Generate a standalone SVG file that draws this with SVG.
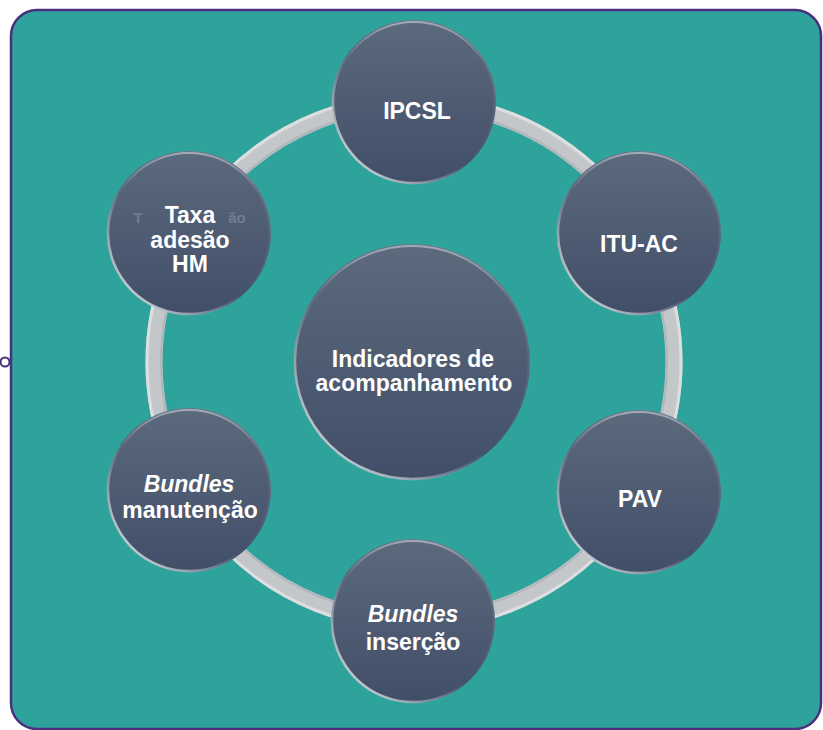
<svg xmlns="http://www.w3.org/2000/svg" width="823" height="730" viewBox="0 0 823 730">
  <style>
    .lbl { font-family: "Liberation Sans", Arial, sans-serif; font-weight: bold; fill: #ffffff; text-anchor: middle; }
    .it { font-style: italic; }
    .ghost { font-family: "Liberation Sans", Arial, sans-serif; font-weight: bold; fill: #ffffff; fill-opacity: 0.2; text-anchor: middle; }
    .rim { fill: none; stroke: url(#rim); stroke-width: 2.5; }
    .rimTop { fill: none; stroke: url(#rimTop); stroke-width: 2; }
  </style>
  <defs>
    <linearGradient id="nodeFill" x1="0" y1="0" x2="0" y2="1">
      <stop offset="0" stop-color="#5c6a7d"/>
      <stop offset="1" stop-color="#414e68"/>
    </linearGradient>
    <linearGradient id="rim" x1="0.85" y1="0.1" x2="0.1" y2="0.9">
      <stop offset="0" stop-color="#ffffff" stop-opacity="0.1"/>
      <stop offset="0.55" stop-color="#ffffff" stop-opacity="0"/>
      <stop offset="1" stop-color="#ffffff" stop-opacity="0.75"/>
    </linearGradient>
    <linearGradient id="rimTop" x1="0" y1="0" x2="0" y2="1">
      <stop offset="0" stop-color="#ffffff" stop-opacity="0.4"/>
      <stop offset="0.25" stop-color="#ffffff" stop-opacity="0"/>
      <stop offset="1" stop-color="#ffffff" stop-opacity="0"/>
    </linearGradient>
  </defs>

  <!-- frame -->
  <rect x="11" y="10" width="810" height="719" rx="26" ry="26" fill="#2ea39c" stroke="#4b2f7f" stroke-width="2.5"/>
  <circle cx="5" cy="362" r="4.5" fill="#ffffff" stroke="#4b2f7f" stroke-width="2"/>

  <!-- connectors: ring -->
  <g id="connectors">
    <circle cx="414" cy="362" r="260" fill="none" stroke="#c4c7ca" stroke-width="17"/>
    <circle cx="414" cy="362" r="267" fill="none" stroke="#dcdee0" stroke-width="3"/>
    <circle cx="414" cy="362" r="253" fill="none" stroke="#b2b6ba" stroke-width="2"/>
  </g>

  <g id="node-center">
    <circle cx="412" cy="362" r="118" fill="url(#nodeFill)"/>
    <circle cx="412" cy="362" r="117" class="rim"/>
    <circle cx="412" cy="362" r="116" class="rimTop"/>
    <text class="lbl" x="413" y="367" font-size="23">Indicadores de</text>
    <text class="lbl" x="414" y="391" font-size="23">acompanhamento</text>
  </g>

  <g id="node-ipcsl">
    <circle cx="414" cy="102" r="82" fill="url(#nodeFill)"/>
    <circle cx="414" cy="102" r="81" class="rim"/>
    <circle cx="414" cy="102" r="80" class="rimTop"/>
    <text class="lbl" x="417" y="119" font-size="23">IPCSL</text>
  </g>

  <g id="node-ituac">
    <circle cx="639" cy="233" r="82" fill="url(#nodeFill)"/>
    <circle cx="639" cy="233" r="81" class="rim"/>
    <circle cx="639" cy="233" r="80" class="rimTop"/>
    <text class="lbl" x="639" y="252" font-size="23">ITU-AC</text>
  </g>

  <g id="node-pav">
    <circle cx="639" cy="492" r="82" fill="url(#nodeFill)"/>
    <circle cx="639" cy="492" r="81" class="rim"/>
    <circle cx="639" cy="492" r="80" class="rimTop"/>
    <text class="lbl" x="640" y="507" font-size="23">PAV</text>
  </g>

  <g id="node-bundles-insercao">
    <circle cx="413" cy="621" r="82" fill="url(#nodeFill)"/>
    <circle cx="413" cy="621" r="81" class="rim"/>
    <circle cx="413" cy="621" r="80" class="rimTop"/>
    <text class="lbl it" x="413" y="622" font-size="23">Bundles</text>
    <text class="lbl" x="413" y="650" font-size="23">inserção</text>
  </g>

  <g id="node-bundles-manutencao">
    <circle cx="189" cy="490" r="82" fill="url(#nodeFill)"/>
    <circle cx="189" cy="490" r="81" class="rim"/>
    <circle cx="189" cy="490" r="80" class="rimTop"/>
    <text class="lbl it" x="189" y="492" font-size="23">Bundles</text>
    <text class="lbl" x="190" y="518" font-size="23">manutenção</text>
  </g>

  <g id="node-taxa">
    <circle cx="189" cy="233" r="82" fill="url(#nodeFill)"/>
    <circle cx="189" cy="233" r="81" class="rim"/>
    <circle cx="189" cy="233" r="80" class="rimTop"/>
    <text class="ghost" x="138" y="223" font-size="15">T</text>
    <text class="ghost" x="237" y="223" font-size="15">ão</text>
    <text class="lbl" x="190" y="223" font-size="23">Taxa</text>
    <text class="lbl" x="190" y="248" font-size="23">adesão</text>
    <text class="lbl" x="190" y="272" font-size="23">HM</text>
  </g>
</svg>
